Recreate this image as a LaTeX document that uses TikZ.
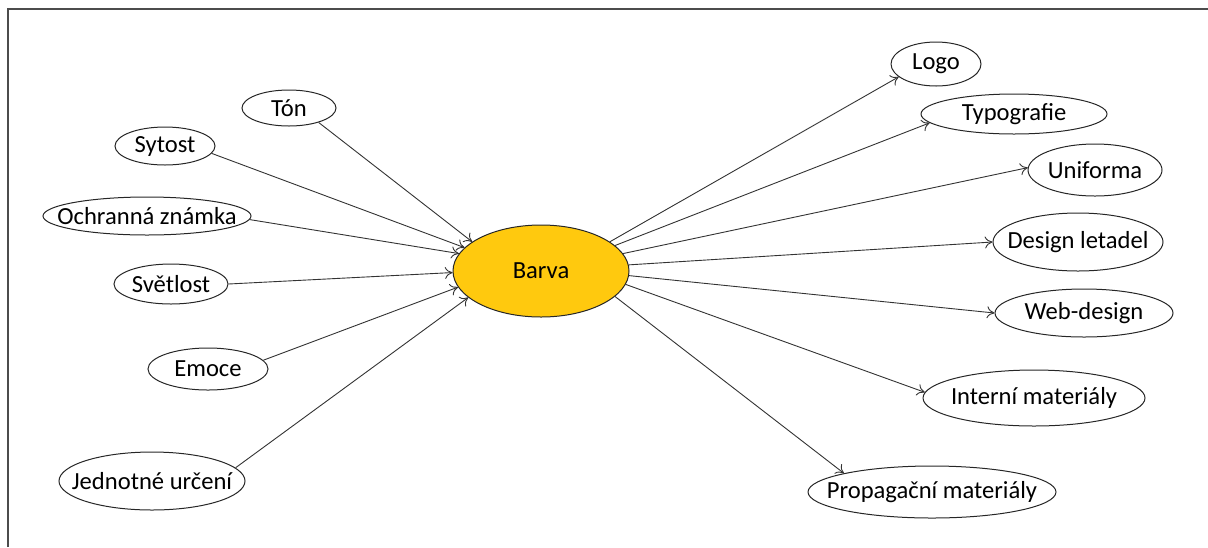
\documentclass[tikz,border=0pt]{standalone}
\usepackage{fontspec}
\setmainfont{Carlito}
\usetikzlibrary{shapes.geometric,arrows.meta}

\definecolor{barvafill}{RGB}{255,201,14}
% label with no width, so the ellipse keeps its given size
\newcommand{\nw}[1]{\makebox[0pt]{#1}}

\begin{document}
\begin{tikzpicture}[x=0.5pt, y=-0.5pt,
  bubble/.style 2 args={draw=black!85, line width=0.5pt, ellipse, inner sep=0pt,
    minimum width=#1pt, minimum height=#2pt, font=\fontsize{12.3}{14}\selectfont},
  link/.style={draw=black!80, line width=0.45pt, -{To[length=3.8pt,width=6pt]}}]

\useasboundingbox (0,0) rectangle (1208,547);
\draw [black!70, line width=0.75pt] (8,547) -- (8,9) -- (1208,9);

\node [bubble={88}{46}, fill=barvafill] (barva) at (541,271) {\nw{Barva}};

% what makes up the colour
\node [bubble={47}{18}] (ton) at (289,108) {\nw{Tón}};
\node [bubble={50}{19}] (sytost) at (165,146) {\nw{Sytost}};
\node [bubble={104}{19}] (znamka) at (147,216) {\nw{Ochranná známka}};
\node [bubble={57}{20}] (svetlost) at (171,284) {\nw{Světlost}};
\node [bubble={60}{21}] (emoce) at (208,369) {\nw{Emoce}};
\node [bubble={93}{29}] (urceni) at (152,481) {\nw{Jednotné určení}};

% where it is used
\node [bubble={45}{22}] (logo) at (936,64) {\nw{Logo}};
\node [bubble={93}{20}] (typo) at (1014,114) {\nw{Typografie}};
\node [bubble={67}{26}] (uniforma) at (1095,170) {\nw{Uniforma}};
\node [bubble={85}{29}] (letadla) at (1078,242) {\nw{Design letadel}};
\node [bubble={89}{24}] (web) at (1084,313) {\nw{Web-design}};
\node [bubble={111}{28}] (interni) at (1034,398) {\nw{Interní materiály}};
\node [bubble={124}{26}] (propag) at (932,492) {\nw{Propagační materiály}};

\draw [link] (ton.-26) -- (barva.157);
\draw [link] (sytost.-9) -- (barva.163);
\draw [link] (znamka.-2) -- (barva.168);
\draw [link] (svetlost.east) -- (barva.181);
\draw [link] (emoce.9) -- (barva.191);
\draw [link] (urceni.9) -- (barva.200);

\draw [link] (barva.23) -- (logo.199);
\draw [link] (barva.19) -- (typo.186);
\draw [link] (barva.12) -- (uniforma.178);
\draw [link] (barva.4) -- (letadla.west);
\draw [link] (barva.-3) -- (web.west);
\draw [link] (barva.-9) -- (interni.177);
\draw [link] (barva.-19) -- (propag.168);

\end{tikzpicture}
\end{document}
